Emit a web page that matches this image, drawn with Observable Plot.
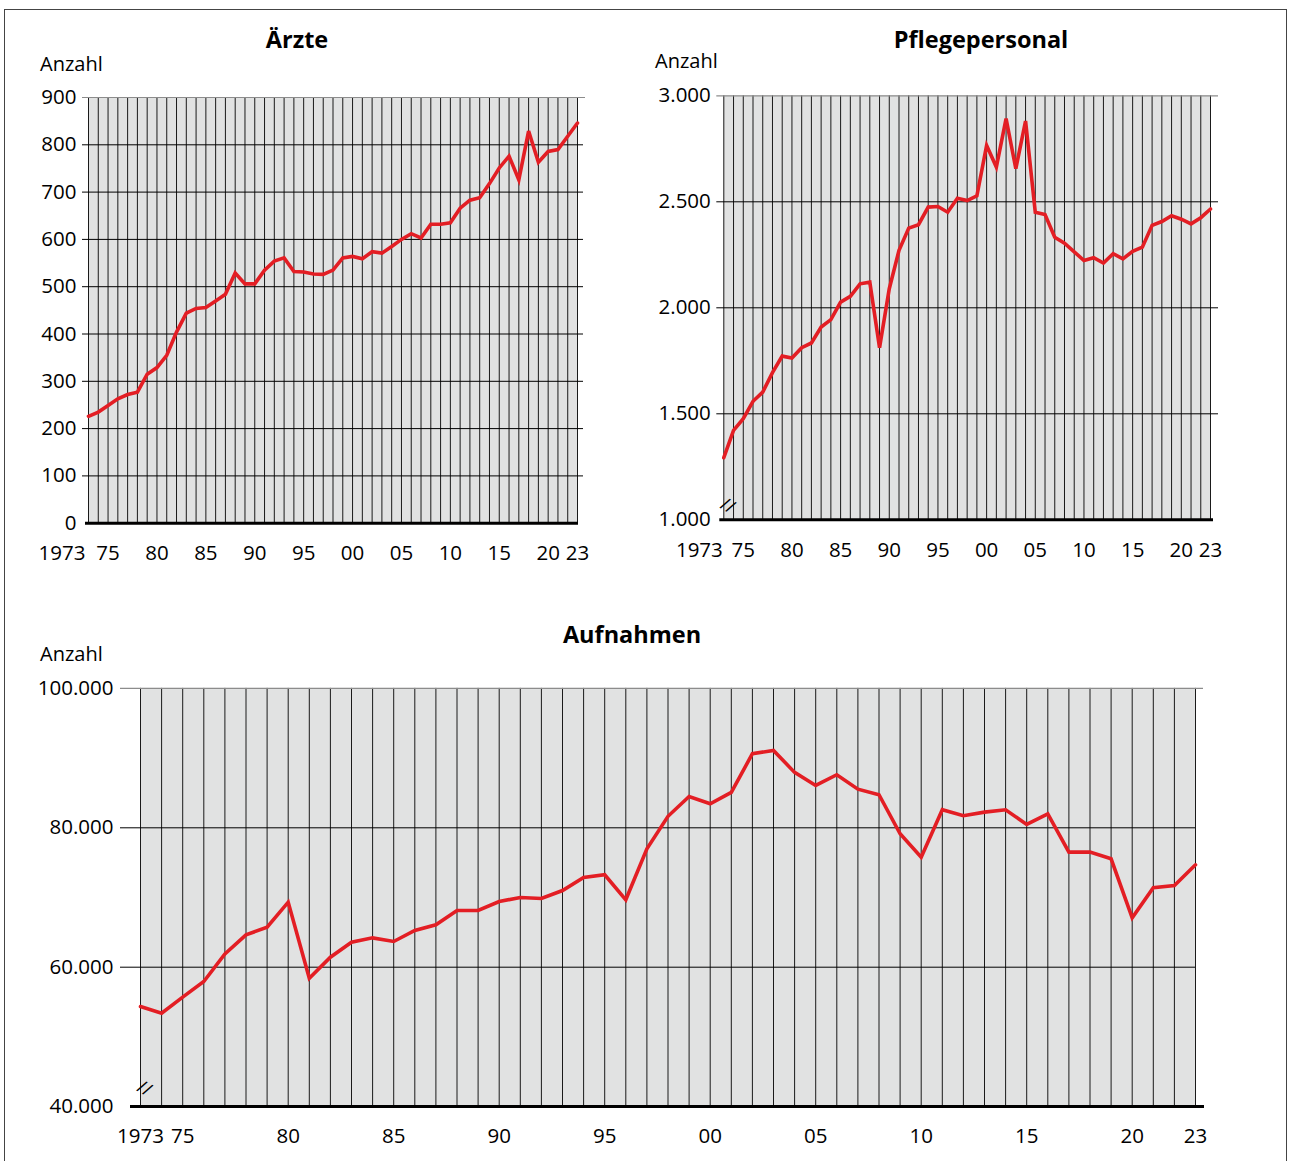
<!DOCTYPE html>
<html><head><meta charset="utf-8">
<script src="https://cdn.jsdelivr.net/npm/d3@7"></script>
<script src="https://cdn.jsdelivr.net/npm/@observablehq/plot@0.6"></script>
<style>
body{margin:0;background:#fff;font-family:"Open Sans",sans-serif;}
#wrap{position:relative;width:1290px;height:1161px;overflow:hidden;background:#fff;}
.frame{position:absolute;left:4px;top:9px;width:1283px;height:1160px;border:1px solid #444;box-sizing:border-box;}
.layer{position:absolute;left:0;top:0;pointer-events:none;}
.t{position:absolute;font-weight:700;font-size:23.5px;line-height:30px;transform:translateX(-50%);white-space:nowrap;color:#000;}
.u{position:absolute;font-size:20px;line-height:26px;color:#000;white-space:nowrap;}
</style></head><body>
<div id="wrap"><div class="frame"></div></div>
<script>
// ---- data ----
const years = [1973,1974,1975,1976,1977,1978,1979,1980,1981,1982,1983,1984,1985,1986,1987,1988,1989,1990,1991,1992,1993,1994,1995,1996,1997,1998,1999,2000,2001,2002,2003,2004,2005,2006,2007,2008,2009,2010,2011,2012,2013,2014,2015,2016,2017,2018,2019,2020,2021,2022,2023];

const aerzte = [226,235,249,263,272,277,315,329,355,404,
                444,454,456,470,484,529,506,506,535,554,
                561,532,531,527,526,535,
                561,564,559,574,571,585,600,612,603,632,
                632,635,666,683,688,718,751,776,726,829,
                763,786,790,818,846];

const pflege = [1293,1422,1477,1559,1602,1694,1772,1763,1812,1834,
                1909,1944,2027,2054,2113,2121,1812,2090,2271,2376,
                2392,2475,2478,2451,2517,2506,
                2528,2766,2664,2892,2656,2881,2451,2440,2333,2305,
                2264,2223,2236,2211,2255,2231,2266,2286,2389,2407,
                2434,2418,2396,2425,2466];

const aufnahmen = [54350,53400,55700,57940,61900,64640,65740,69330,58420,61440,
                   63590,64210,63690,65270,66080,68140,68140,69430,70000,69860,
                   71000,72870,73260,69670,76990,81650,
                   84500,83450,85080,90630,91100,87950,86080,87610,85550,84740,
                   79140,75790,82590,81730,82250,82590,80480,82010,76510,76510,
                   75550,67080,71390,71720,74690];

const aerzteTicks = [0,100,200,300,400,500,600,700,800,900];
const pflegeTicks = [1000,1500,2000,2500,3000];
const aufnahmenTicks = [40000,60000,80000,100000];

const xTickYears = [1973,1975,1980,1985,1990,1995,2000,2005,2010,2015,2020,2023];
const xTickLabels = ["1973","75","80","85","90","95","00","05","10","15","20","23"];

const titles = ["Ärzte","Pflegepersonal","Aufnahmen"];
const unitLabel = "Anzahl";

// ---- layout (styles / positions) ----
const fmt = d3.formatLocale({decimal:",", thousands:".", grouping:[3], currency:["","€"]}).format(",d");

const charts = [
  {title:titles[0], values:aerzte, ticks:aerzteTicks, xr:[88,577], yr:[522.7,97],
   gridExt:[6,6], baseExt:[3,1], tickDx:-12, firstAnchor:"end", firstDx:-3, labelDy:30,
   titleX:297, titleY:39, unitX:40, unitY:64, brk:null},
  {title:titles[1], values:pflege, ticks:pflegeTicks, xr:[723.3,1210], yr:[519.3,95.3],
   gridExt:[7,8], baseExt:[4,3], tickDx:-13, firstAnchor:"end", firstDx:-1, labelDy:31,
   titleX:981, titleY:39, unitX:655, unitY:61, brk:{dx:4, dy:-14}},
  {title:titles[2], values:aufnahmen, ticks:aufnahmenTicks, xr:[140,1195], yr:[1106.1,687.9],
   gridExt:[20,0], baseExt:[10,9], tickDx:-27, firstAnchor:"middle", firstDx:0, labelDy:30,
   titleX:632, titleY:634, unitX:40, unitY:654, brk:{dx:4, dy:-18}}
];

const wrap = document.getElementById("wrap");

for (const c of charts) {
  const ymin = c.ticks[0], ymax = c.ticks[c.ticks.length-1];
  const x0 = years[0], x1 = years[years.length-1];
  const marks = [
    Plot.rect([c], {x1: () => x0, x2: () => x1, y1: () => ymin, y2: () => ymax, fill: "#e1e2e2"}),
    Plot.ruleX(years, {x: d => d, y1: ymin, y2: ymax, stroke: "#1a1a1a", strokeWidth: 1}),
    Plot.ruleY(c.ticks.slice(1, -1), {y: d => d, x1: x0, x2: x1, insetLeft: -c.gridExt[0], insetRight: -c.gridExt[1], stroke: "#000", strokeWidth: 1}),
    Plot.ruleY([ymax], {y: d => d, x1: x0, x2: x1, insetLeft: -c.gridExt[0], insetRight: -Math.max(c.gridExt[1], 8), stroke: "#8c8c8c", strokeWidth: 1.2}),
    Plot.ruleY([ymin], {y: d => d, x1: x0, x2: x1, insetLeft: -c.baseExt[0], insetRight: -c.baseExt[1], stroke: "#000", strokeWidth: 3}),
    Plot.line(c.values, {x: (d, i) => years[i], y: d => d, stroke: "#e31e24", strokeWidth: 3.6, strokeLinejoin: "miter", strokeMiterlimit: 4}),
    Plot.text(c.ticks, {x: x0, y: d => d, text: d => fmt(d), textAnchor: "end", dx: c.tickDx, fontSize: 20.5, fill: "#000"}),
    Plot.text(xTickYears.slice(0, 1), {x: d => d, y: ymin, dy: c.labelDy, dx: c.firstDx, text: d => xTickLabels[xTickYears.indexOf(d)], textAnchor: c.firstAnchor, fontSize: 20.5, fill: "#000"}),
    Plot.text(xTickYears.slice(1), {x: d => d, y: ymin, dy: c.labelDy, text: d => xTickLabels[xTickYears.indexOf(d)], fontSize: 20.5, fill: "#000"})
  ];
  if (c.brk) {
    marks.push(Plot.text([ymin], {x: x0, y: d => d, text: () => "//", dx: c.brk.dx, dy: c.brk.dy, fontSize: 18, rotate: 28, fill: "#000"}));
  }
  const svg = Plot.plot({
    width: 1290, height: 1161,
    marginLeft: 0, marginRight: 0, marginTop: 0, marginBottom: 0,
    x: {domain: [x0, x1], range: c.xr, axis: null},
    y: {domain: [ymin, ymax], range: c.yr, axis: null},
    style: {background: "transparent", overflow: "visible", fontFamily: "'Open Sans', sans-serif"},
    marks
  });
  const layer = document.createElement("div");
  layer.className = "layer";
  layer.appendChild(svg);
  wrap.appendChild(layer);

  const t = document.createElement("div");
  t.className = "t";
  t.textContent = c.title;
  t.style.left = c.titleX + "px";
  t.style.top = (c.titleY - 15) + "px";
  wrap.appendChild(t);

  const u = document.createElement("div");
  u.className = "u";
  u.textContent = unitLabel;
  u.style.left = c.unitX + "px";
  u.style.top = (c.unitY - 13) + "px";
  wrap.appendChild(u);
}
</script>
</body></html>
